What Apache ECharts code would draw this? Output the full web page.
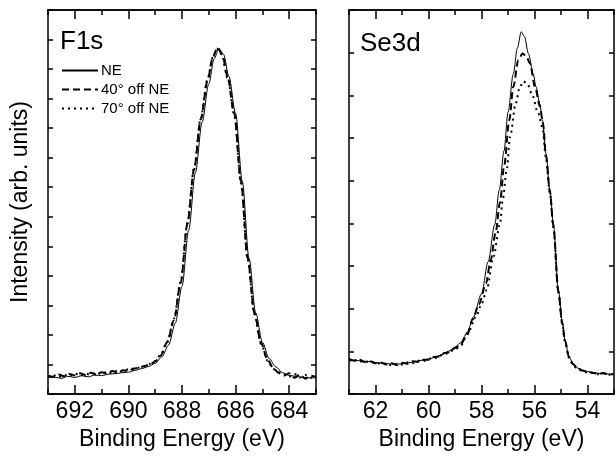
<!DOCTYPE html>
<html>
<head>
<meta charset="utf-8">
<script src="https://cdn.jsdelivr.net/npm/echarts@6/dist/echarts.min.js"></script>
<style>html,body{margin:0;padding:0;background:#fff}#c{width:616px;height:456px}</style>
</head>
<body>
<div id="c"></div>
<script>
// ---- tick labels ----
var f1sMajor = [684, 686, 688, 690, 692];
var f1sMinor = [683, 685, 687, 689, 691, 693];
var se3dMajor = [54, 56, 58, 60, 62];
var se3dMinor = [53, 55, 57, 59, 61, 63];
var seriesNames = ['NE', '40° off NE', '70° off NE'];
var panelTitles = ['F1s', 'Se3d'];

// ---- F1s data [binding energy, intensity] ----
var f1sNE = [[693.0,0.55],[692.75,0.57],[692.5,0.53],[692.25,0.6],[692.0,0.56],[691.75,0.62],[691.5,0.58],[691.25,0.64],[691.0,0.62],[690.75,0.67],[690.5,0.69],[690.25,0.72],[690.0,0.74],[689.75,0.8],[689.5,0.86],[689.25,0.93],[689.0,1.04],[688.75,1.26],[688.5,1.66],[688.25,2.4],[688.0,3.65],[687.75,5.55],[687.5,7.5],[687.25,9.2],[687.0,10.5],[686.8,11.35],[686.62,11.7],[686.45,11.5],[686.25,10.75],[686.0,9.5],[685.75,7.2],[685.5,4.6],[685.25,2.75],[685.0,1.75],[684.75,1.2],[684.5,0.92],[684.25,0.72],[684.0,0.63],[683.75,0.6],[683.5,0.56],[683.25,0.55],[683.0,0.55]];
var f1s40 = [[693.0,0.62],[692.8,0.58],[692.6,0.66],[692.4,0.6],[692.2,0.68],[692.0,0.63],[691.8,0.7],[691.6,0.64],[691.4,0.72],[691.2,0.66],[691.0,0.74],[690.8,0.7],[690.6,0.78],[690.4,0.72],[690.2,0.8],[690.0,0.78],[689.8,0.86],[689.6,0.88],[689.4,0.95],[689.2,1.0],[689.0,1.1],[688.8,1.3],[688.55,1.75],[688.3,2.5],[688.05,3.75],[687.8,5.75],[687.55,7.6],[687.3,9.3],[687.05,10.6],[686.85,11.4],[686.68,11.72],[686.5,11.5],[686.3,10.75],[686.05,9.5],[685.8,7.2],[685.55,4.6],[685.3,2.75],[685.05,1.72],[684.8,1.15],[684.6,0.88],[684.4,0.72],[684.2,0.62],[684.0,0.7],[683.8,0.55],[683.6,0.66],[683.4,0.52],[683.2,0.62],[683.0,0.58]];
var f1s70 = [[693.0,0.58],[692.8,0.64],[692.6,0.57],[692.4,0.65],[692.2,0.6],[692.0,0.7],[691.8,0.62],[691.6,0.69],[691.4,0.65],[691.2,0.73],[691.0,0.67],[690.8,0.75],[690.6,0.7],[690.4,0.8],[690.2,0.76],[690.0,0.84],[689.8,0.82],[689.6,0.9],[689.4,0.93],[689.2,1.02],[689.0,1.12],[688.8,1.32],[688.55,1.78],[688.3,2.55],[688.05,3.8],[687.8,5.8],[687.55,7.65],[687.3,9.35],[687.05,10.65],[686.85,11.4],[686.7,11.7],[686.52,11.5],[686.3,10.7],[686.05,9.45],[685.8,7.15],[685.55,4.55],[685.3,2.7],[685.05,1.7],[684.8,1.12],[684.6,0.85],[684.4,0.74],[684.2,0.66],[684.0,0.58],[683.8,0.68],[683.6,0.56],[683.4,0.64],[683.2,0.55],[683.0,0.6]];

// ---- Se3d data [binding energy, intensity] ----
var se3dNE = [[63.0,0.80],[62.75,0.79],[62.5,0.77],[62.25,0.76],[62.0,0.74],[61.75,0.72],[61.5,0.71],[61.25,0.70],[61.0,0.71],[60.75,0.73],[60.5,0.76],[60.25,0.79],[60.0,0.82],[59.75,0.86],[59.5,0.92],[59.25,1.0],[59.0,1.1],[58.8,1.2],[58.55,1.42],[58.3,1.81],[58.0,2.35],[57.75,3.1],[57.5,3.97],[57.33,4.78],[57.15,5.7],[57.0,6.6],[56.8,7.5],[56.65,8.1],[56.5,8.49],[56.38,8.38],[56.23,7.98],[56.05,7.5],[55.94,7.2],[55.8,6.8],[55.7,6.42],[55.57,5.64],[55.42,4.78],[55.29,4.0],[55.1,2.44],[54.95,1.7],[54.85,1.27],[54.7,0.88],[54.55,0.72],[54.35,0.6],[54.1,0.54],[53.8,0.5],[53.5,0.48],[53.25,0.47],[53.0,0.46]];
var se3d40 = [[63.0,0.82],[62.8,0.78],[62.6,0.8],[62.4,0.75],[62.2,0.77],[62.0,0.72],[61.8,0.74],[61.6,0.69],[61.4,0.72],[61.2,0.68],[61.0,0.73],[60.8,0.71],[60.6,0.77],[60.4,0.75],[60.2,0.8],[60.0,0.8],[59.8,0.87],[59.6,0.88],[59.4,0.96],[59.2,0.98],[59.0,1.08],[58.8,1.15],[58.55,1.38],[58.33,1.75],[58.1,2.1],[57.83,2.59],[57.65,3.15],[57.47,3.77],[57.3,4.5],[57.15,5.33],[56.95,6.42],[56.8,7.2],[56.61,7.83],[56.45,7.98],[56.3,7.9],[56.17,7.75],[55.98,7.2],[55.8,6.75],[55.68,6.35],[55.57,5.6],[55.42,4.75],[55.29,3.95],[55.1,2.4],[54.95,1.65],[54.85,1.25],[54.7,0.87],[54.55,0.7],[54.4,0.62],[54.2,0.55],[54.0,0.52],[53.8,0.5],[53.6,0.47],[53.4,0.49],[53.2,0.46],[53.0,0.47]];
var se3d70 = [[63.0,0.78],[62.8,0.8],[62.6,0.75],[62.4,0.78],[62.2,0.73],[62.0,0.75],[61.8,0.7],[61.6,0.72],[61.4,0.67],[61.2,0.7],[61.0,0.69],[60.8,0.74],[60.6,0.72],[60.4,0.78],[60.2,0.77],[60.0,0.83],[59.8,0.82],[59.6,0.9],[59.4,0.92],[59.2,1.0],[59.0,1.05],[58.8,1.12],[58.5,1.45],[58.21,1.81],[58.0,2.1],[57.8,2.44],[57.55,3.22],[57.3,4.0],[57.2,4.55],[57.05,5.25],[56.92,6.03],[56.71,6.81],[56.55,7.2],[56.42,7.33],[56.25,7.25],[56.11,7.05],[55.86,6.58],[55.7,6.25],[55.57,5.55],[55.42,4.72],[55.29,3.9],[55.1,2.38],[54.95,1.62],[54.85,1.22],[54.7,0.85],[54.55,0.68],[54.4,0.6],[54.2,0.54],[54.0,0.5],[53.8,0.49],[53.6,0.46],[53.4,0.48],[53.2,0.45],[53.0,0.46]];

var FONT = '"Liberation Sans", Arial, Helvetica, sans-serif';
var BLACK = '#000';

function xAxes(g, min, max, major, minor) {
  function ax(pos, ticks, len, labels, named) {
    return {
      gridIndex: g, type: 'value', min: min, max: max, inverse: true, position: pos,
      axisLine: { show: true, onZero: false, lineStyle: { color: BLACK, width: 1.5 } },
      axisTick: { show: true, inside: true, length: len, customValues: ticks, lineStyle: { color: BLACK, width: 1.5 } },
      axisLabel: labels ? { show: true, customValues: major, margin: 6, fontSize: 23, color: BLACK, fontFamily: FONT } : { show: false },
      splitLine: { show: false },
      name: named ? 'Binding Energy (eV)' : '',
      nameLocation: 'middle', nameGap: 34,
      nameTextStyle: { fontSize: 23, color: BLACK, fontFamily: FONT }
    };
  }
  return [ax('bottom', major, 9, true, true), ax('top', major, 9, false, false),
          ax('bottom', minor, 5, false, false), ax('top', minor, 5, false, false)];
}
function yAxes(g, max, named) {
  function ax(pos, nm) {
    return {
      gridIndex: g, type: 'value', min: 0, max: max, interval: 1, position: pos,
      axisLine: { show: true, onZero: false, lineStyle: { color: BLACK, width: 1.5 } },
      axisTick: { show: true, inside: true, length: 5, lineStyle: { color: BLACK, width: 1.5 } },
      axisLabel: { show: false }, splitLine: { show: false },
      name: nm ? 'Intensity (arb. units)' : '', nameLocation: 'middle', nameGap: 16,
      nameTextStyle: { fontSize: 23, color: BLACK, fontFamily: FONT }
    };
  }
  return [ax('left', named), ax('right', false)];
}

var styles = [
  { type: 'solid', width: 1 },
  { type: [7, 4], width: 2 },
  { type: [2, 4], width: 2 }
];
function mk(name, idx, xi, yi, data) {
  return {
    type: 'line', name: name, xAxisIndex: xi, yAxisIndex: yi, data: data,
    symbol: 'none', smooth: 0.3, smoothMonotone: 'x', animation: false,
    lineStyle: { color: BLACK, width: styles[idx].width, type: styles[idx].type },
    itemStyle: { color: BLACK }
  };
}

var chart = echarts.init(document.getElementById('c'), null, { renderer: 'canvas' });
chart.setOption({
  backgroundColor: '#fff',
  animation: false,
  textStyle: { fontFamily: FONT },
  title: [
    { text: panelTitles[0], left: 60, top: 29, padding: 0, textStyle: { fontSize: 26, fontWeight: 'normal', color: BLACK, fontFamily: FONT } },
    { text: panelTitles[1], left: 360, top: 31, padding: 0, textStyle: { fontSize: 26, fontWeight: 'normal', color: BLACK, fontFamily: FONT } }
  ],
  legend: {
    data: seriesNames, orient: 'vertical', left: 61, top: 63, padding: 0,
    itemWidth: 36, itemHeight: 14, itemGap: 4,
    itemStyle: { opacity: 0 },
    textStyle: { fontSize: 15, color: BLACK, fontFamily: FONT, padding: [0, 0, 0, -2] },
    selectedMode: false
  },
  grid: [
    { left: 48, top: 10, width: 268, height: 384, containLabel: false, outerBoundsMode: 'none' },
    { left: 349, top: 10, width: 265, height: 384, containLabel: false, outerBoundsMode: 'none' }
  ],
  xAxis: xAxes(0, 683, 693, f1sMajor, f1sMinor).concat(xAxes(1, 53, 63, se3dMajor, se3dMinor)),
  yAxis: yAxes(0, 13, true).concat(yAxes(1, 9, false)),
  series: [
    mk(seriesNames[0], 0, 0, 0, f1sNE),
    mk(seriesNames[1], 1, 0, 0, f1s40),
    mk(seriesNames[2], 2, 0, 0, f1s70),
    mk(seriesNames[0], 0, 4, 2, se3dNE),
    mk(seriesNames[1], 1, 4, 2, se3d40),
    mk(seriesNames[2], 2, 4, 2, se3d70)
  ]
});
</script>
</body>
</html>
